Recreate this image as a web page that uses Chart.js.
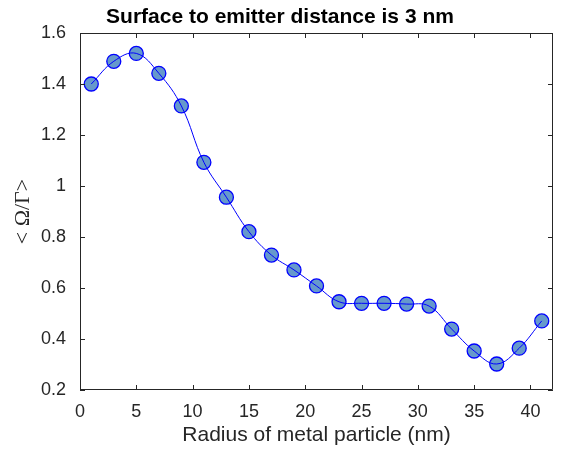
<!DOCTYPE html>
<html>
<head>
<meta charset="utf-8">
<script src="https://cdn.jsdelivr.net/npm/chart.js@4/dist/chart.umd.min.js"></script>
<style>body{margin:0;background:#fff}</style>
</head>
<body>
<canvas id="chart" width="563" height="449"></canvas>
<script>
const CHART = document.getElementById("chart");

// radius of particle (nm) and <Omega/Gamma>
const radius = [1, 3, 5, 7, 9, 11, 13, 15, 17, 19, 21, 23, 25, 27, 29, 31, 33, 35, 37, 39, 41];
const ratio = [1.40, 1.489, 1.52, 1.442, 1.314, 1.093, 0.956, 0.821, 0.729, 0.671, 0.608,
               0.546, 0.540, 0.540, 0.537, 0.529, 0.439, 0.353, 0.302, 0.364, 0.471];
const xTicks = [0, 5, 10, 15, 20, 25, 30, 35, 40];
const yTicks = [0.2, 0.4, 0.6, 0.8, 1, 1.2, 1.4, 1.6];

const titleText = "Surface to emitter distance is 3 nm";
const axisColor = "#262626";

var points = radius.map(function(r, i) { return {x: r, y: ratio[i]}; });

// box round the axes with inward ticks, plus the title
const frame = {
  id: "frame",
  afterDraw: function(chart) {
    var ctx = chart.ctx;
    var a = chart.chartArea;
    var xs = chart.scales.x, ys = chart.scales.y;
    var tl = 5;
    ctx.save();
    ctx.strokeStyle = axisColor;
    ctx.lineWidth = 1;
    ctx.beginPath();
    ctx.rect(a.left + 0.5, a.top + 0.5, a.right - a.left - 1, a.bottom - a.top - 1);
    xTicks.forEach(function(v) {
      var px = Math.round(xs.getPixelForValue(v)) + 0.5;
      ctx.moveTo(px, a.bottom); ctx.lineTo(px, a.bottom - tl);
      ctx.moveTo(px, a.top); ctx.lineTo(px, a.top + tl);
    });
    yTicks.forEach(function(v) {
      var py = Math.round(ys.getPixelForValue(v)) + 0.5;
      ctx.moveTo(a.left, py); ctx.lineTo(a.left + tl, py);
      ctx.moveTo(a.right, py); ctx.lineTo(a.right - tl, py);
    });
    ctx.stroke();

    ctx.fillStyle = "#000";
    ctx.font = 'bold 21px "Liberation Sans", Arial, sans-serif';
    ctx.textAlign = "center";
    ctx.textBaseline = "alphabetic";
    ctx.fillText(titleText, 280, 23);
    ctx.restore();
  }
};

let lineChart = new Chart(CHART, {
  type: "scatter",
  data: {
    datasets: [
      {
        label: "spline",
        data: points,
        showLine: true,
        tension: 0.4,
        borderColor: "#0000ff",
        borderWidth: 1,
        pointRadius: 0,
        fill: false,
        order: 0
      },
      {
        label: "data",
        data: points,
        showLine: false,
        pointRadius: 7,
        pointBorderWidth: 1.3,
        pointBorderColor: "#0000ff",
        pointBackgroundColor: "rgb(102,153,204)",
        order: 1
      }
    ]
  },
  options: {
    responsive: false,
    animation: false,
    layout: { padding: { top: 33, right: 10, left: 0, bottom: 0 } },
    plugins: {
      legend: { display: false },
      tooltip: { enabled: false },
      title: { display: false }
    },
    scales: {
      x: {
        type: "linear",
        position: "bottom",
        min: 0,
        max: 42,
        grid: { display: false, drawTicks: false },
        border: { display: false },
        afterBuildTicks: function(s) { s.ticks = xTicks.map(function(v) { return {value: v}; }); },
        afterFit: function(s) { s.height = 59; },
        ticks: {
          padding: 11,
          color: axisColor,
          font: { family: '"Liberation Sans", Arial, sans-serif', size: 18 },
          callback: function(v) { return String(v); }
        },
        title: {
          display: true,
          text: "Radius of metal particle (nm)",
          color: axisColor,
          font: { family: '"Liberation Sans", Arial, sans-serif', size: 21 },
          padding: { top: 0, bottom: 1 }
        }
      },
      y: {
        type: "linear",
        min: 0.2,
        max: 1.6,
        grid: { display: false, drawTicks: false },
        border: { display: false },
        afterBuildTicks: function(s) { s.ticks = yTicks.map(function(v) { return {value: v}; }); },
        afterFit: function(s) { s.width = 80; },
        ticks: {
          padding: 14,
          color: axisColor,
          font: { family: '"Liberation Sans", Arial, sans-serif', size: 18 },
          callback: function(v) { return String(v); }
        },
        title: {
          display: true,
          text: "< \u03A9/\u0393>",
          color: axisColor,
          font: { family: '"Liberation Serif", "Times New Roman", serif', size: 22 },
          padding: { top: 10, bottom: 0 }
        }
      }
    }
  },
  plugins: [frame]
});
</script>
</body>
</html>
